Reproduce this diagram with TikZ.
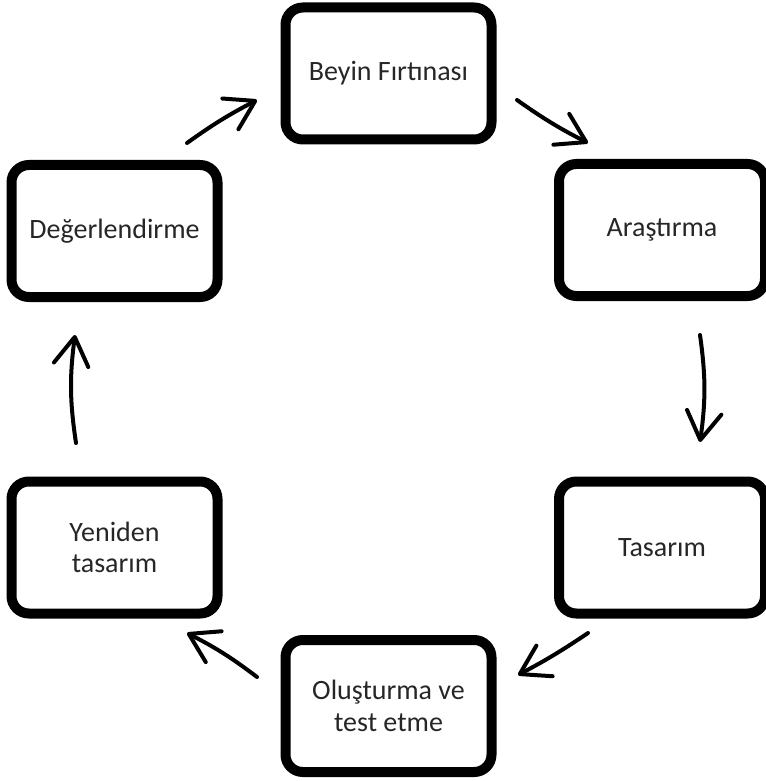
\documentclass[tikz,border=0pt]{standalone}
\usepackage{fontspec}
\setmainfont{Carlito}
\usetikzlibrary{arrows.meta}
\begin{document}
\begin{tikzpicture}[x=0.75pt,y=-0.75pt,
  stage/.style={draw=black, line width=7.5pt, rounded corners=13pt,
    minimum width=154.5pt, minimum height=99pt, inner sep=0pt,
    align=center, text=black!85, font=\fontsize{21}{23.5}\selectfont},
  flow/.style={line width=3pt, line cap=round,
    -{Straight Barb[length=21pt,width=26pt,round]}}]
\useasboundingbox (0,0) rectangle (765,781);

\node[stage] (beyin) at (388.5,73.5) {Beyin Fırtınası};
\node[stage] (aras)  at (662,230)    {Araştırma};
\node[stage] (tas)   at (662,547.5)  {Tasarım};
\node[stage] (olus)  at (388.5,706)  {Oluşturma ve\\test etme};
\node[stage] (yen)   at (114.5,547.5) {Yeniden\\tasarım};
\node[stage] (deg)   at (114.5,231)  {Değerlendirme};

\coordinate (a1s) at (187,143); \coordinate (a1e) at (257,100);
\coordinate (a2s) at (517,100); \coordinate (a2e) at (588,143);
\coordinate (a3s) at (700,335); \coordinate (a3e) at (700,442);
\coordinate (a4s) at (588,633); \coordinate (a4e) at (518,675);
\coordinate (a5s) at (257,677); \coordinate (a5e) at (187,633);
\coordinate (a6s) at (76,443);  \coordinate (a6e) at (75,335);

\draw[flow] (a1s) to[bend left=4] (a1e);
\draw[flow] (a2s) to[bend right=4] (a2e);
\draw[flow] (a3s) to[bend left=8] (a3e);
\draw[flow] (a4s) to[bend left=3] (a4e);
\draw[flow] (a5s) to[bend right=5] (a5e);
\draw[flow] (a6s) to[bend left=8] (a6e);
\end{tikzpicture}
\end{document}
